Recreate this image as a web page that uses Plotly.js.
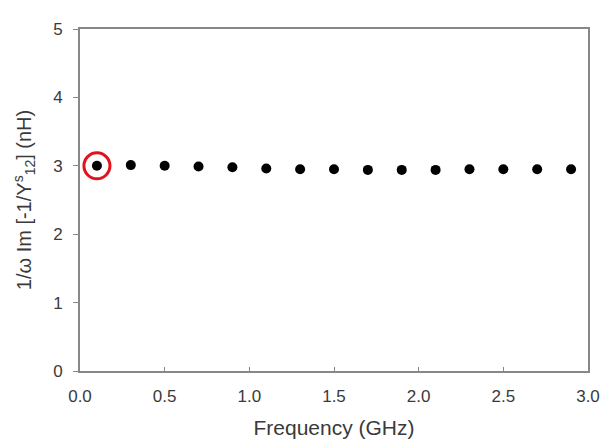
<!DOCTYPE html>
<html>
<head>
<meta charset="utf-8">
<script src="https://cdn.plot.ly/plotly-3.0.1.min.js"></script>
<style>html,body{margin:0;padding:0;background:#fff;}#chart{width:602px;height:448px;}</style>
</head>
<body>
<div id="chart"></div>
<script>
const frequency = [0.1, 0.3, 0.5, 0.7, 0.9, 1.1, 1.3, 1.5, 1.7, 1.9, 2.1, 2.3, 2.5, 2.7, 2.9];
const inductance = [3.00, 3.01, 3.00, 2.99, 2.98, 2.96, 2.95, 2.95, 2.94, 2.94, 2.94, 2.95, 2.95, 2.95, 2.95];
const highlightFreq = [frequency[0]];
const highlightVal = [inductance[0]];
const xTicks = [0, 0.5, 1.0, 1.5, 2.0, 2.5, 3.0];
const xTickLabels = ['0.0', '0.5', '1.0', '1.5', '2.0', '2.5', '3.0'];
const yTicks = [0, 1, 2, 3, 4, 5];

const traces = [
  {x: frequency, y: inductance, mode: 'markers', type: 'scatter',
   marker: {color: '#000', size: 10}, hoverinfo: 'skip'},
  {x: highlightFreq, y: highlightVal, mode: 'markers', type: 'scatter',
   marker: {color: 'rgba(0,0,0,0)', size: 26, line: {color: '#e0141e', width: 3}}, hoverinfo: 'skip'}
];
const font = {family: '"Liberation Sans", Arial, sans-serif', color: '#3a3a3a', size: 17};
const layout = {
  width: 602, height: 448,
  margin: {l: 80, r: 14, t: 29, b: 77},
  paper_bgcolor: '#fff', plot_bgcolor: '#fff',
  showlegend: false,
  font: font,
  xaxis: {range: [0, 3], tickvals: xTicks, ticktext: xTickLabels, ticks: 'inside', ticklen: 4,
    tickcolor: '#888', showline: true, linecolor: '#888', linewidth: 2, mirror: true,
    showgrid: false, zeroline: false, fixedrange: true, ticklabelstandoff: 9,
    title: {text: 'Frequency (GHz)', font: {size: 21, color: '#3a3a3a'}, standoff: 15}},
  yaxis: {range: [0, 5], tickvals: yTicks, ticks: 'outside', ticklen: 5,
    tickcolor: '#888', showline: true, linecolor: '#888', linewidth: 2, mirror: true,
    showgrid: false, zeroline: false, fixedrange: true, ticklabelstandoff: 7,
    title: {text: '1/ω Im [-1/Y<sup>s</sup><sub>12</sub>] (nH)', font: {size: 20, color: '#3a3a3a'}, standoff: 16}}
};
Plotly.newPlot('chart', traces, layout, {displayModeBar: false, staticPlot: true});
</script>
</body>
</html>
